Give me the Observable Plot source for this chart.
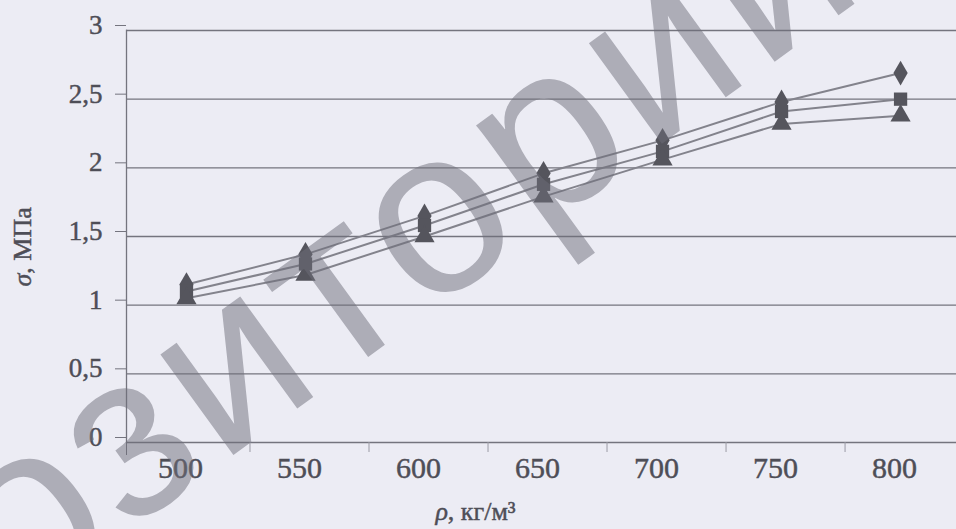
<!DOCTYPE html>
<html>
<head>
<meta charset="utf-8">
<script src="https://cdn.jsdelivr.net/npm/d3@7"></script>
<script src="https://cdn.jsdelivr.net/npm/@observablehq/plot@0.6"></script>
<style>
  html, body { margin: 0; padding: 0; background: #ececf4; }
  #chart { width: 956px; height: 529px; overflow: hidden; }
  #chart svg text.thick { stroke: currentColor; stroke-width: 0.45px; }
</style>
</head>
<body>
<div id="chart"></div>
<script>
// ---- data ----
const rho = [500, 550, 600, 650, 700, 750, 800];          // ρ, кг/м³
const seriesDiamond  = [1.15, 1.37, 1.65, 1.96, 2.20, 2.48, 2.69];
const seriesSquare   = [1.10, 1.30, 1.58, 1.88, 2.12, 2.41, 2.50];
const seriesTriangle = [1.05, 1.22, 1.50, 1.79, 2.06, 2.32, 2.38];
const yTicks = [0, 0.5, 1, 1.5, 2, 2.5, 3];
const xLabels = [500, 550, 600, 650, 700, 750, 800];
const xDomain = [474.8, 823.5];   // visible span of the category axis
const xTitle = "ρ, кг/м³";
const yTitle = "σ, МПа";
const watermark = "репозиторий";

const seriesList = [
  {name: "diamond", symbol: "diamond", values: seriesDiamond},
  {name: "square", symbol: "square", values: seriesSquare},
  {name: "triangle", symbol: "triangle", values: seriesTriangle}
];
const rows = seriesList.flatMap(s => rho.map((r, i) => ({series: s.name, symbol: s.symbol, rho: r, sigma: s.values[i]})));
const between = d3.pairs(rho).map(([a, b]) => (a + b) / 2);

const ink = "#4e4e57";
const rule = "#74747e";
const chart = Plot.plot({
  width: 956,
  height: 529,
  marginLeft: 126,
  marginRight: 0,
  marginTop: 30,
  marginBottom: 87,
  style: {background: "#ececf4", fontFamily: "'Liberation Serif', 'Times New Roman', serif", color: ink},
  x: {domain: xDomain},
  y: {domain: [0, 3]},
  symbol: {domain: ["diamond", "square", "triangle"], range: ["diamond2", "square2", "triangle2"]},
  marks: [
    Plot.gridY(yTicks, {stroke: rule, strokeOpacity: 1, strokeWidth: 1.3}),
    Plot.frame({anchor: "left", stroke: rule, strokeWidth: 1.3}),
    Plot.axisY({ticks: yTicks, tickSize: 11, tickPadding: 13, stroke: rule, label: null,
      tickFormat: d => String(d).replace(".", ","), fontSize: 27, dy: -5}),
    Plot.axisX({ticks: [xDomain[0]], tickSize: 13, tickFormat: () => "", stroke: rule, label: null}),
    Plot.axisX({ticks: between, tickSize: 10, tickFormat: () => "", stroke: "#9a9aa4", label: null, dx: 4}),
    Plot.axisX({ticks: xLabels, tickSize: 0, tickPadding: 14, fontSize: 30, label: null, dx: -6, tickFormat: d => String(d)}),
    Plot.line(rows, {x: "rho", y: "sigma", z: "series", stroke: "#83838c", strokeWidth: 2}),
    Plot.dot(rows, {x: "rho", y: "sigma", symbol: "symbol", fill: "#55555d", r: 7.5}),
    Plot.text([xTitle], {frameAnchor: "bottom", dx: -66, dy: 77, fontSize: 26, fill: ink}),
    Plot.text([yTitle], {frameAnchor: "left", rotate: -90, dx: -104, dy: 50, fontSize: 26, fill: ink})
  ]
});
document.getElementById("chart").appendChild(chart);

const svg = d3.select(chart);
// slightly heavier ink, like the printed page
svg.selectAll("text").classed("thick", true);

// italic Greek letters in the axis titles
svg.selectAll("text").each(function() {
  const t = d3.select(this);
  const txt = t.text();
  if (txt === xTitle || txt === yTitle) {
    const tsp = t.select("tspan").empty() ? t : t.select("tspan");
    const s = tsp.text();
    tsp.text("");
    tsp.append("tspan").attr("font-style", "italic").text(s[0]);
    tsp.append("tspan").text(s.slice(1));
  }
});

// scanned page watermark
svg.append("text")
  .attr("transform", "translate(242,372) rotate(-36)")
  .attr("text-anchor", "middle")
  .attr("dominant-baseline", "middle")
  .attr("font-family", "'Liberation Sans', sans-serif")
  .attr("font-size", 235)
  .attr("letter-spacing", 8)
  .attr("fill", "rgba(110,110,122,0.5)")
  .text(watermark);
</script>
</body>
</html>
